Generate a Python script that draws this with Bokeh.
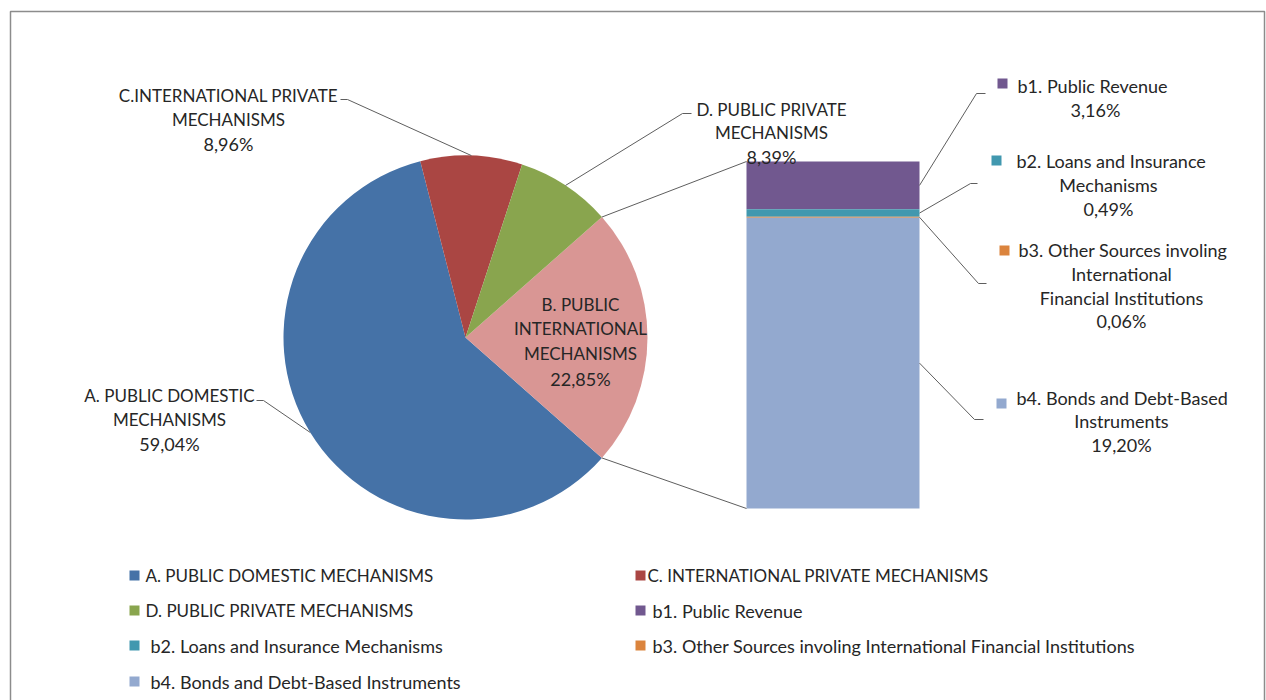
import math
from bokeh.plotting import figure
from bokeh.models import Range1d
from bokeh.core.properties import value
from bokeh.embed import file_html
from bokeh.resources import INLINE

# ---------------- data ----------------
pie_categories = ["A. PUBLIC DOMESTIC MECHANISMS", "B. PUBLIC INTERNATIONAL MECHANISMS",
                  "C. INTERNATIONAL PRIVATE MECHANISMS", "D. PUBLIC PRIVATE MECHANISMS"]
pie_values = [59.04, 22.85, 8.96, 8.39]
pie_colors = ["#4572A7", "#D99694", "#AA4643", "#89A54E"]
pie_label_lines = [["A. PUBLIC DOMESTIC", "MECHANISMS"],
                   ["B. PUBLIC", "INTERNATIONAL", "MECHANISMS"],
                   ["C.INTERNATIONAL PRIVATE", "MECHANISMS"],
                   ["D. PUBLIC PRIVATE", "MECHANISMS"]]

bar_categories = ["b1. Public Revenue", "b2. Loans and Insurance Mechanisms",
                  "b3. Other Sources involing International Financial Institutions",
                  "b4. Bonds and Debt-Based Instruments"]
bar_values = [3.16, 0.49, 0.06, 19.20]
bar_colors = ["#71588F", "#4198AF", "#DB843D", "#93A9CF"]
bar_label_lines = [["b1. Public Revenue"],
                   ["b2. Loans and Insurance", "Mechanisms"],
                   ["b3. Other Sources involing", "International", "Financial Institutions"],
                   ["b4. Bonds and Debt-Based", "Instruments"]]

legend_order = [("pie", 0), ("pie", 2), ("pie", 3), ("bar", 0), ("bar", 1), ("bar", 2), ("bar", 3)]


def pct(v):
    return f"{v:.2f}".replace(".", ",") + "%"


# ---------------- layout (screen pixels) ----------------
W, H = 1266, 700
FONT = value("Lato")
FS_UP = value("17px")   # upper-case labels
FS_LO = value("18px")   # mixed-case labels and numbers
TXT = "#262626"
LEAD = "#5e5e5e"


def Y(sy):
    return H - sy


p = figure(width=W, height=H, x_range=Range1d(0, W), y_range=Range1d(0, H),
           output_backend="svg", toolbar_location=None, min_border=0,
           x_axis_type=None, y_axis_type=None)
p.grid.visible = False
p.outline_line_color = None
p.background_fill_color = "white"
p.border_fill_color = "white"

# chart frame
p.line(x=[10, 10, 1264, 1264], y=[Y(720), Y(11), Y(11), Y(720)], line_color="#8c8c8c", line_width=1.5)

# ---------------- pie ----------------
cx, cy, R = 465, Y(337), 182
total = sum(pie_values)
order = [1, 3, 2, 0]  # counter-clockwise from the split slice
a = -pie_values[1] / total * 360 / 2
ang = {}
for i in order:
    span = pie_values[i] / total * 360
    ang[i] = (a, a + span)
    a += span

p.wedge(x=[cx] * 4, y=[cy] * 4, radius=R,
        start_angle=[math.radians(ang[i][0]) for i in range(4)],
        end_angle=[math.radians(ang[i][1]) for i in range(4)],
        fill_color=pie_colors, line_color=None)


def edge(deg, r=R):
    return cx + r * math.cos(math.radians(deg)), cy + r * math.sin(math.radians(deg))


# ---------------- bar of pie ----------------
bx0, bx1, bbot, bh = 746, 919, Y(508), 347
btotal = sum(bar_values)
scale = bh / btotal
stack = [3, 2, 1, 0]
bottoms, tops = {}, {}
yy = bbot
for i in stack:
    bottoms[i] = yy
    yy += bar_values[i] * scale
    tops[i] = yy
p.quad(left=[bx0] * 4, right=[bx1] * 4, bottom=[bottoms[i] for i in range(4)],
       top=[tops[i] for i in range(4)], fill_color=bar_colors, line_color=None)

# connector lines pie -> bar
p1 = edge(ang[1][1])
p2 = edge(ang[1][0])
p.segment(x0=[p1[0], p2[0]], y0=[p1[1], p2[1]], x1=[bx0, bx0], y1=[tops[0], bottoms[3]],
          line_color=LEAD, line_width=1)

# ---------------- pie data labels ----------------
pie_lab_cx = [169, 580, 228, 771]
pie_lab_y = [[395, 419, 443], [304, 328, 353, 378], [95, 119, 143], [109, 132, 156]]
pie_leader = {0: [(263, 400), (256, 400)], 2: [(347, 99), (340, 99)], 3: [(682, 113), (691, 113)]}

ux, uy, ut, nx, ny, nt = [], [], [], [], [], []
for i in range(4):
    for ln, sy in zip(pie_label_lines[i], pie_lab_y[i]):
        ux.append(pie_lab_cx[i]); uy.append(Y(sy)); ut.append(ln)
    nx.append(pie_lab_cx[i]); ny.append(Y(pie_lab_y[i][-1])); nt.append(pct(pie_values[i]))
p.text(x=ux, y=uy, text=ut, text_font=FONT, text_font_size=FS_UP, text_color=TXT,
       text_align="center", text_baseline="middle")
p.text(x=nx, y=ny, text=nt, text_font=FONT, text_font_size=FS_LO, text_color=TXT,
       text_align="center", text_baseline="middle")

xs, ys = [], []
for i, pts in pie_leader.items():
    mid = (ang[i][0] + ang[i][1]) / 2
    e = edge(mid)
    xs.append([e[0]] + [q[0] for q in pts])
    ys.append([e[1]] + [Y(q[1]) for q in pts])
p.multi_line(xs=xs, ys=ys, line_color=LEAD, line_width=1)

# ---------------- bar data labels ----------------
bar_sq = [(1002, 83), (996, 160), (1004, 250), (1001, 403)]
bar_first_left = [1017, 1016, 1018, 1016]
bar_lab_cx = [1095, 1108, 1121, 1121]
bar_lab_y = [[85, 109], [160, 184, 208], [249, 273, 297, 320], [397, 420, 444]]
bar_leader = [[(976, 93), (985, 93)], [(970, 183), (977, 183)],
              [(978, 283), (986, 283)], [(974, 419), (983, 419)]]

p.scatter(x=[s[0] for s in bar_sq], y=[Y(s[1]) for s in bar_sq], marker="square", size=10,
          fill_color=bar_colors, line_color=None)

lx, ly, lt = [], [], []
cx2, cy2, ct2 = [], [], []
for i in range(4):
    lines = bar_label_lines[i] + [pct(bar_values[i])]
    for k, (ln, sy) in enumerate(zip(lines, bar_lab_y[i])):
        if k == 0:
            lx.append(bar_first_left[i]); ly.append(Y(sy)); lt.append(ln)
        else:
            cx2.append(bar_lab_cx[i]); cy2.append(Y(sy)); ct2.append(ln)
p.text(x=lx, y=ly, text=lt, text_font=FONT, text_font_size=FS_LO, text_color=TXT,
       text_align="left", text_baseline="middle")
p.text(x=cx2, y=cy2, text=ct2, text_font=FONT, text_font_size=FS_LO, text_color=TXT,
       text_align="center", text_baseline="middle")

xs, ys = [], []
for i in range(4):
    sy = (bottoms[i] + tops[i]) / 2
    xs.append([bx1] + [q[0] for q in bar_leader[i]])
    ys.append([sy] + [Y(q[1]) for q in bar_leader[i]])
p.multi_line(xs=xs, ys=ys, line_color=LEAD, line_width=1)

# ---------------- legend ----------------
col_sq = [134, 640]
col_txt = [145, 647]
row_y = [575, 610, 645, 681]
gx, gy, gc = [], [], []
ax_, ay_, at_, bx_, by_, bt_ = [], [], [], [], [], []
for n, (kind, i) in enumerate(legend_order):
    r, c = divmod(n, 2)
    gx.append(col_sq[c]); gy.append(Y(row_y[r]))
    if kind == "pie":
        gc.append(pie_colors[i])
        ax_.append(col_txt[c]); ay_.append(Y(row_y[r])); at_.append(pie_categories[i])
    else:
        gc.append(bar_colors[i])
        bx_.append(col_txt[c] + 5); by_.append(Y(row_y[r])); bt_.append(bar_categories[i])
p.scatter(x=gx, y=gy, marker="square", size=10, fill_color=gc, line_color=None)
p.text(x=ax_, y=ay_, text=at_, text_font=FONT, text_font_size=FS_UP, text_color=TXT,
       text_align="left", text_baseline="middle")
p.text(x=bx_, y=by_, text=bt_, text_font=FONT, text_font_size=FS_LO, text_color=TXT,
       text_align="left", text_baseline="middle")

open("out.html", "w").write(file_html(p, INLINE))
